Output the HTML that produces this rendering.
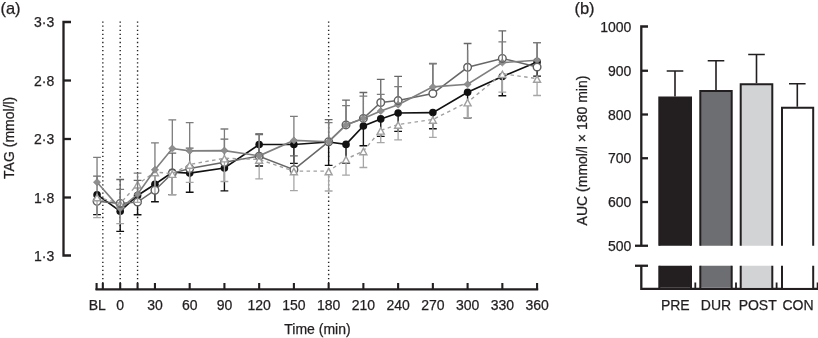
<!DOCTYPE html><html><head><meta charset="utf-8"><title>Figure</title>
<style>html,body{margin:0;padding:0;background:#fff}svg{display:block;filter:blur(0.3px)}text{font-family:"Liberation Sans",Arial,Helvetica,sans-serif;fill:#231f20;stroke:#231f20;stroke-width:0.25px}</style></head><body>
<svg width="818" height="338" viewBox="0 0 818 338">
<rect width="818" height="338" fill="#fff"/>
<text x="0.4" y="14.3" font-size="16.5">(a)</text>
<text x="574.4" y="14.3" font-size="16.5">(b)</text>
<g stroke="#231f20" stroke-width="2.3" fill="none">
<path d="M71 22H63.5V255.5H71"/>
<path d="M63.5 80.50H71"/>
<path d="M63.5 139.00H71"/>
<path d="M63.5 197.50H71"/>
</g>
<g stroke="#231f20" stroke-width="2.3" fill="none">
<path d="M95.5 289.3H538.2"/>
</g>
<g stroke="#231f20" stroke-width="2.1" fill="none">
<path d="M96.6 283V290"/>
<path d="M102.83 283V290"/>
<path d="M120.20 283V290"/>
<path d="M137.57 283V290"/>
<path d="M154.94 283V290"/>
<path d="M189.68 283V290"/>
<path d="M224.42 283V290"/>
<path d="M259.16 283V290"/>
<path d="M293.90 283V290"/>
<path d="M328.64 283V290"/>
<path d="M363.38 283V290"/>
<path d="M398.12 283V290"/>
<path d="M432.86 283V290"/>
<path d="M467.60 283V290"/>
<path d="M502.34 283V290"/>
<path d="M537.08 283V290"/>
</g>
<g stroke="#222" stroke-width="1.4" stroke-dasharray="1.3 2.77" fill="none">
<path d="M102.83 21.5V283"/>
<path d="M120.20 21.5V283"/>
<path d="M137.57 21.5V283"/>
<path d="M328.64 21.5V283"/>
</g>
<g font-size="14" text-anchor="end">
<text x="54.3" y="27.00">3·3</text>
<text x="54.3" y="85.50">2·8</text>
<text x="54.3" y="144.00">2·3</text>
<text x="54.3" y="202.50">1·8</text>
<text x="54.3" y="261.00">1·3</text>
</g>
<g font-size="14" text-anchor="middle">
<text x="97.3" y="309.6">BL</text>
<text x="120.20" y="309.6">0</text>
<text x="154.94" y="309.6">30</text>
<text x="189.68" y="309.6">60</text>
<text x="224.42" y="309.6">90</text>
<text x="259.16" y="309.6">120</text>
<text x="293.90" y="309.6">150</text>
<text x="328.64" y="309.6">180</text>
<text x="363.38" y="309.6">210</text>
<text x="398.12" y="309.6">240</text>
<text x="432.86" y="309.6">270</text>
<text x="467.60" y="309.6">300</text>
<text x="502.34" y="309.6">330</text>
<text x="537.08" y="309.6">360</text>
<text x="317.5" y="334.4">Time (min)</text>
<text transform="translate(14.2 137.8) rotate(-90)">TAG (mmol/l)</text>
</g>
<path d="M97.04 194.70V214.60 M93.14 214.60H100.94 M120.20 211.20V231.40 M116.30 231.40H124.10 M137.57 195.50V214.80 M133.67 214.80H141.47 M154.94 184.30V201.80 M151.04 201.80H158.84 M172.31 172.30V194.60 M168.41 194.60H176.21 M189.68 173.10V192.30 M185.78 192.30H193.58 M224.42 168.00V190.90 M220.52 190.90H228.32 M259.16 144.50V166.00 M255.26 166.00H263.06 M293.90 144.50V163.40 M290.00 163.40H297.80 M328.64 142.00V165.40 M324.74 165.40H332.54 M346.01 144.40V163.20 M342.11 163.20H349.91 M363.38 126.00V145.80 M359.48 145.80H367.28 M380.75 118.90V136.40 M376.85 136.40H384.65 M398.12 113.00V131.40 M394.22 131.40H402.02 M432.86 112.60V128.80 M428.96 128.80H436.76 M467.60 92.30V117.70 M463.70 117.70H471.50 M502.34 76.50V95.80 M498.44 95.80H506.24 M537.08 61.90V76.10 M533.18 76.10H540.98" stroke="#111" stroke-width="1.4" fill="none"/>
<path d="M97.04 194.70 L120.20 211.20 L137.57 195.50 L154.94 184.30 L172.31 172.30 L189.68 173.10 L224.42 168.00 L259.16 144.50 L293.90 144.50 L328.64 142.00 L346.01 144.40 L363.38 126.00 L380.75 118.90 L398.12 113.00 L432.86 112.60 L467.60 92.30 L502.34 76.50 L537.08 61.90" stroke="#111" stroke-width="1.65" fill="none"/>
<circle cx="97.04" cy="194.70" r="3.8" fill="#111"/>
<circle cx="120.20" cy="211.20" r="3.8" fill="#111"/>
<circle cx="137.57" cy="195.50" r="3.8" fill="#111"/>
<circle cx="154.94" cy="184.30" r="3.8" fill="#111"/>
<circle cx="172.31" cy="172.30" r="3.8" fill="#111"/>
<circle cx="189.68" cy="173.10" r="3.8" fill="#111"/>
<circle cx="224.42" cy="168.00" r="3.8" fill="#111"/>
<circle cx="259.16" cy="144.50" r="3.8" fill="#111"/>
<circle cx="293.90" cy="144.50" r="3.8" fill="#111"/>
<circle cx="328.64" cy="142.00" r="3.8" fill="#111"/>
<circle cx="346.01" cy="144.40" r="3.8" fill="#111"/>
<circle cx="363.38" cy="126.00" r="3.8" fill="#111"/>
<circle cx="380.75" cy="118.90" r="3.8" fill="#111"/>
<circle cx="398.12" cy="113.00" r="3.8" fill="#111"/>
<circle cx="432.86" cy="112.60" r="3.8" fill="#111"/>
<circle cx="467.60" cy="92.30" r="3.8" fill="#111"/>
<circle cx="502.34" cy="76.50" r="3.8" fill="#111"/>
<circle cx="537.08" cy="61.90" r="3.8" fill="#111"/>
<path d="M97.04 201.30V176.10 M93.14 176.10H100.94 M120.20 203.40V179.50 M116.30 179.50H124.10 M137.57 202.00V180.40 M133.67 180.40H141.47 M154.94 190.20V171.00 M172.31 173.30V153.20 M168.41 153.20H176.21 M189.68 168.50V148.20 M185.78 148.20H193.58 M224.42 162.30V139.20 M220.52 139.20H228.32 M259.16 156.20V134.60 M255.26 134.60H263.06 M293.90 169.70V155.80 M290.00 155.80H297.80 M328.64 141.70V119.60 M324.74 119.60H332.54 M346.01 124.90V100.10 M342.11 100.10H349.91 M363.38 118.40V92.50 M359.48 92.50H367.28 M380.75 102.50V79.30 M376.85 79.30H384.65 M398.12 100.60V76.40 M394.22 76.40H402.02 M432.86 93.50V63.90 M428.96 63.90H436.76 M467.60 67.30V43.50 M463.70 43.50H471.50 M502.34 58.40V30.90 M498.44 30.90H506.24 M537.08 67.00V42.60 M533.18 42.60H540.98" stroke="#676767" stroke-width="1.3" fill="none"/>
<path d="M97.04 201.30 L120.20 203.40 L137.57 202.00 L154.94 190.20 L172.31 173.30 L189.68 168.50 L224.42 162.30 L259.16 156.20 L293.90 169.70 L328.64 141.70 L346.01 124.90 L363.38 118.40 L380.75 102.50 L398.12 100.60 L432.86 93.50 L467.60 67.30 L502.34 58.40 L537.08 67.00" stroke="#676767" stroke-width="1.5" fill="none"/>
<circle cx="97.04" cy="201.30" r="3.8" fill="#fff" stroke="#5e5e5e" stroke-width="1.4"/>
<circle cx="120.20" cy="203.40" r="3.8" fill="#fff" stroke="#5e5e5e" stroke-width="1.4"/>
<circle cx="137.57" cy="202.00" r="3.8" fill="#fff" stroke="#5e5e5e" stroke-width="1.4"/>
<circle cx="154.94" cy="190.20" r="3.8" fill="#fff" stroke="#5e5e5e" stroke-width="1.4"/>
<circle cx="172.31" cy="173.30" r="3.8" fill="#fff" stroke="#5e5e5e" stroke-width="1.4"/>
<circle cx="189.68" cy="168.50" r="3.8" fill="#fff" stroke="#5e5e5e" stroke-width="1.4"/>
<circle cx="224.42" cy="162.30" r="3.8" fill="#fff" stroke="#5e5e5e" stroke-width="1.4"/>
<circle cx="259.16" cy="156.20" r="3.8" fill="#fff" stroke="#5e5e5e" stroke-width="1.4"/>
<circle cx="293.90" cy="169.70" r="3.8" fill="#fff" stroke="#5e5e5e" stroke-width="1.4"/>
<circle cx="328.64" cy="141.70" r="3.8" fill="#fff" stroke="#5e5e5e" stroke-width="1.4"/>
<circle cx="346.01" cy="124.90" r="3.8" fill="#fff" stroke="#5e5e5e" stroke-width="1.4"/>
<circle cx="363.38" cy="118.40" r="3.8" fill="#fff" stroke="#5e5e5e" stroke-width="1.4"/>
<circle cx="380.75" cy="102.50" r="3.8" fill="#fff" stroke="#5e5e5e" stroke-width="1.4"/>
<circle cx="398.12" cy="100.60" r="3.8" fill="#fff" stroke="#5e5e5e" stroke-width="1.4"/>
<circle cx="432.86" cy="93.50" r="3.8" fill="#fff" stroke="#5e5e5e" stroke-width="1.4"/>
<circle cx="467.60" cy="67.30" r="3.8" fill="#fff" stroke="#5e5e5e" stroke-width="1.4"/>
<circle cx="502.34" cy="58.40" r="3.8" fill="#fff" stroke="#5e5e5e" stroke-width="1.4"/>
<circle cx="537.08" cy="67.00" r="3.8" fill="#fff" stroke="#5e5e5e" stroke-width="1.4"/>
<path d="M97.04 197.00V217.60 M93.14 217.60H100.94 M120.20 203.50V223.70 M116.30 223.70H124.10 M137.57 184.30V202.40 M133.67 202.40H141.47 M154.94 172.00V193.00 M172.31 173.70V194.70 M168.41 194.70H176.21 M189.68 164.50V182.30 M185.78 182.30H193.58 M224.42 158.20V181.50 M220.52 181.50H228.32 M259.16 159.50V178.90 M255.26 178.90H263.06 M293.90 171.10V190.70 M290.00 190.70H297.80 M328.64 171.10V191.00 M324.74 191.00H332.54 M346.01 159.20V175.10 M342.11 175.10H349.91 M363.38 151.00V167.50 M359.48 167.50H367.28 M380.75 130.40V142.60 M376.85 142.60H384.65 M398.12 124.50V139.80 M394.22 139.80H402.02 M432.86 119.50V137.40 M428.96 137.40H436.76 M467.60 102.20V117.70 M463.70 117.70H471.50 M502.34 73.80V92.10 M498.44 92.10H506.24 M537.08 78.60V95.50 M533.18 95.50H540.98" stroke="#a6a6a6" stroke-width="1.3" fill="none"/>
<path d="M97.04 197.00 L120.20 203.50 L137.57 184.30 L154.94 172.00 L172.31 173.70 L189.68 164.50 L224.42 158.20 L259.16 159.50 L293.90 171.10 L328.64 171.10 L346.01 159.20 L363.38 151.00 L380.75 130.40 L398.12 124.50 L432.86 119.50 L467.60 102.20 L502.34 73.80 L537.08 78.60" stroke="#a0a0a0" stroke-width="1.4" fill="none" stroke-dasharray="3.5 3.4"/>
<path d="M97.04 194.30L100.54 200.70H93.54Z" fill="#fff" stroke="#a0a0a0" stroke-width="1.4"/>
<path d="M120.20 200.80L123.70 207.20H116.70Z" fill="#fff" stroke="#a0a0a0" stroke-width="1.4"/>
<path d="M137.57 181.60L141.07 188.00H134.07Z" fill="#fff" stroke="#a0a0a0" stroke-width="1.4"/>
<path d="M154.94 169.30L158.44 175.70H151.44Z" fill="#fff" stroke="#a0a0a0" stroke-width="1.4"/>
<path d="M172.31 171.00L175.81 177.40H168.81Z" fill="#fff" stroke="#a0a0a0" stroke-width="1.4"/>
<path d="M189.68 161.80L193.18 168.20H186.18Z" fill="#fff" stroke="#a0a0a0" stroke-width="1.4"/>
<path d="M224.42 155.50L227.92 161.90H220.92Z" fill="#fff" stroke="#a0a0a0" stroke-width="1.4"/>
<path d="M259.16 156.80L262.66 163.20H255.66Z" fill="#fff" stroke="#a0a0a0" stroke-width="1.4"/>
<path d="M293.90 168.40L297.40 174.80H290.40Z" fill="#fff" stroke="#a0a0a0" stroke-width="1.4"/>
<path d="M328.64 168.40L332.14 174.80H325.14Z" fill="#fff" stroke="#a0a0a0" stroke-width="1.4"/>
<path d="M346.01 156.50L349.51 162.90H342.51Z" fill="#fff" stroke="#a0a0a0" stroke-width="1.4"/>
<path d="M363.38 148.30L366.88 154.70H359.88Z" fill="#fff" stroke="#a0a0a0" stroke-width="1.4"/>
<path d="M380.75 127.70L384.25 134.10H377.25Z" fill="#fff" stroke="#a0a0a0" stroke-width="1.4"/>
<path d="M398.12 121.80L401.62 128.20H394.62Z" fill="#fff" stroke="#a0a0a0" stroke-width="1.4"/>
<path d="M432.86 116.80L436.36 123.20H429.36Z" fill="#fff" stroke="#a0a0a0" stroke-width="1.4"/>
<path d="M467.60 99.50L471.10 105.90H464.10Z" fill="#fff" stroke="#a0a0a0" stroke-width="1.4"/>
<path d="M502.34 71.10L505.84 77.50H498.84Z" fill="#fff" stroke="#a0a0a0" stroke-width="1.4"/>
<path d="M537.08 75.90L540.58 82.30H533.58Z" fill="#fff" stroke="#a0a0a0" stroke-width="1.4"/>
<path d="M97.04 182.20V157.30 M93.14 157.30H100.94 M120.20 208.60V189.30 M116.30 189.30H124.10 M137.57 194.30V173.10 M133.67 173.10H141.47 M154.94 169.80V142.90 M151.04 142.90H158.84 M172.31 148.50V119.80 M168.41 119.80H176.21 M189.68 150.90V122.60 M185.78 122.60H193.58 M224.42 150.60V129.00 M220.52 129.00H228.32 M259.16 155.80V133.60 M255.26 133.60H263.06 M293.90 140.40V116.30 M290.00 116.30H297.80 M328.64 141.70V122.70 M324.74 122.70H332.54 M346.01 124.90V105.70 M342.11 105.70H349.91 M363.38 118.40V96.10 M359.48 96.10H367.28 M380.75 111.10V94.40 M376.85 94.40H384.65 M398.12 104.70V86.70 M394.22 86.70H402.02 M432.86 86.90V63.30 M428.96 63.30H436.76 M467.60 84.30V50.00 M502.34 62.60V41.90 M498.44 41.90H506.24 M537.08 60.20V42.60 M533.18 42.60H540.98" stroke="#7c7c7c" stroke-width="1.3" fill="none"/>
<path d="M97.04 182.20 L120.20 208.60 L137.57 194.30 L154.94 169.80 L172.31 148.50 L189.68 150.90 L224.42 150.60 L259.16 155.80 L293.90 140.40 L328.64 141.70 L346.01 124.90 L363.38 118.40 L380.75 111.10 L398.12 104.70 L432.86 86.90 L467.60 84.30 L502.34 62.60 L537.08 60.20" stroke="#7f7f7f" stroke-width="1.6" fill="none"/>
<path d="M97.04 178.70L100.64 182.20L97.04 185.70L93.44 182.20Z" fill="#8e8e8e" stroke="#787878" stroke-width="0.6"/>
<path d="M120.20 205.10L123.80 208.60L120.20 212.10L116.60 208.60Z" fill="#8e8e8e" stroke="#787878" stroke-width="0.6"/>
<path d="M137.57 190.80L141.17 194.30L137.57 197.80L133.97 194.30Z" fill="#8e8e8e" stroke="#787878" stroke-width="0.6"/>
<path d="M154.94 166.30L158.54 169.80L154.94 173.30L151.34 169.80Z" fill="#8e8e8e" stroke="#787878" stroke-width="0.6"/>
<path d="M172.31 145.00L175.91 148.50L172.31 152.00L168.71 148.50Z" fill="#8e8e8e" stroke="#787878" stroke-width="0.6"/>
<path d="M189.68 147.40L193.28 150.90L189.68 154.40L186.08 150.90Z" fill="#8e8e8e" stroke="#787878" stroke-width="0.6"/>
<path d="M224.42 147.10L228.02 150.60L224.42 154.10L220.82 150.60Z" fill="#8e8e8e" stroke="#787878" stroke-width="0.6"/>
<path d="M259.16 152.30L262.76 155.80L259.16 159.30L255.56 155.80Z" fill="#8e8e8e" stroke="#787878" stroke-width="0.6"/>
<path d="M293.90 136.90L297.50 140.40L293.90 143.90L290.30 140.40Z" fill="#8e8e8e" stroke="#787878" stroke-width="0.6"/>
<path d="M328.64 138.20L332.24 141.70L328.64 145.20L325.04 141.70Z" fill="#8e8e8e" stroke="#787878" stroke-width="0.6"/>
<path d="M346.01 121.40L349.61 124.90L346.01 128.40L342.41 124.90Z" fill="#8e8e8e" stroke="#787878" stroke-width="0.6"/>
<path d="M363.38 114.90L366.98 118.40L363.38 121.90L359.78 118.40Z" fill="#8e8e8e" stroke="#787878" stroke-width="0.6"/>
<path d="M380.75 107.60L384.35 111.10L380.75 114.60L377.15 111.10Z" fill="#8e8e8e" stroke="#787878" stroke-width="0.6"/>
<path d="M398.12 101.20L401.72 104.70L398.12 108.20L394.52 104.70Z" fill="#8e8e8e" stroke="#787878" stroke-width="0.6"/>
<path d="M432.86 83.40L436.46 86.90L432.86 90.40L429.26 86.90Z" fill="#8e8e8e" stroke="#787878" stroke-width="0.6"/>
<path d="M467.60 80.80L471.20 84.30L467.60 87.80L464.00 84.30Z" fill="#8e8e8e" stroke="#787878" stroke-width="0.6"/>
<path d="M502.34 59.10L505.94 62.60L502.34 66.10L498.74 62.60Z" fill="#8e8e8e" stroke="#787878" stroke-width="0.6"/>
<path d="M537.08 56.70L540.68 60.20L537.08 63.70L533.48 60.20Z" fill="#8e8e8e" stroke="#787878" stroke-width="0.6"/>
<g fill="none" stroke="#5e5e5e" stroke-width="1.4"><clipPath id="c1"><path d="M120.20 204.80L124.10 208.60L120.20 212.40L116.30 208.60Z"/></clipPath><circle cx="120.20" cy="203.40" r="3.8" clip-path="url(#c1)"/><clipPath id="c2"><path d="M137.57 190.50L141.47 194.30L137.57 198.10L133.67 194.30Z"/></clipPath><circle cx="137.57" cy="202.00" r="3.8" clip-path="url(#c2)"/><clipPath id="c7"><path d="M259.16 152.00L263.06 155.80L259.16 159.60L255.26 155.80Z"/></clipPath><circle cx="259.16" cy="156.20" r="3.8" clip-path="url(#c7)"/><clipPath id="c9"><path d="M328.64 137.90L332.54 141.70L328.64 145.50L324.74 141.70Z"/></clipPath><circle cx="328.64" cy="141.70" r="3.8" clip-path="url(#c9)"/><clipPath id="c10"><path d="M346.01 121.10L349.91 124.90L346.01 128.70L342.11 124.90Z"/></clipPath><circle cx="346.01" cy="124.90" r="3.8" clip-path="url(#c10)"/><clipPath id="c11"><path d="M363.38 114.60L367.28 118.40L363.38 122.20L359.48 118.40Z"/></clipPath><circle cx="363.38" cy="118.40" r="3.8" clip-path="url(#c11)"/><clipPath id="c13"><path d="M398.12 100.90L402.02 104.70L398.12 108.50L394.22 104.70Z"/></clipPath><circle cx="398.12" cy="100.60" r="3.8" clip-path="url(#c13)"/><clipPath id="c14"><path d="M432.86 83.10L436.76 86.90L432.86 90.70L428.96 86.90Z"/></clipPath><circle cx="432.86" cy="93.50" r="3.8" clip-path="url(#c14)"/><clipPath id="c16"><path d="M502.34 58.80L506.24 62.60L502.34 66.40L498.44 62.60Z"/></clipPath><circle cx="502.34" cy="58.40" r="3.8" clip-path="url(#c16)"/><clipPath id="c17"><path d="M537.08 56.40L540.98 60.20L537.08 64.00L533.18 60.20Z"/></clipPath><circle cx="537.08" cy="67.00" r="3.8" clip-path="url(#c17)"/></g>
<g stroke="#231f20" stroke-width="2.3" fill="none">
<path d="M648 26.5H641.3V245.75"/>
<path d="M641.3 70.75H648"/>
<path d="M641.3 114.50H648"/>
<path d="M641.3 158.25H648"/>
<path d="M641.3 202.00H648"/>
<path d="M635 245.75H648"/>
<path d="M635 265.75H648"/>
<path d="M641.3 265.75V288.8H818"/>
</g>
<g stroke="#231f20" stroke-width="1.8" fill="none">
<path d="M695.3 282.5V289"/>
<path d="M736 282.5V289"/>
<path d="M776.6 282.5V289"/>
<path d="M817.6 282.5V289"/>
</g>
<path d="M675 96.5V71M666.7 71H683.3" stroke="#231f20" stroke-width="1.6" fill="none"/>
<rect x="659.3" y="97.5" width="31.700000000000045" height="148.25" fill="#231f20"/>
<path d="M659.3 245.75V97.5H691V245.75" stroke="#231f20" stroke-width="2" fill="none"/>
<rect x="659.3" y="265.75" width="31.700000000000045" height="22" fill="#231f20"/>
<path d="M659.3 288V265.75M691 265.75V288" stroke="#231f20" stroke-width="2" fill="none"/>
<path d="M716 90V60.75M707.7 60.75H724.3" stroke="#231f20" stroke-width="1.6" fill="none"/>
<rect x="700.3" y="91" width="31.40000000000009" height="154.75" fill="#6d6e71"/>
<path d="M700.3 245.75V91H731.7V245.75" stroke="#231f20" stroke-width="2" fill="none"/>
<rect x="700.3" y="265.75" width="31.40000000000009" height="22" fill="#6d6e71"/>
<path d="M700.3 288V265.75M731.7 265.75V288" stroke="#231f20" stroke-width="2" fill="none"/>
<path d="M756.5 83.25V54.5M748.2 54.5H764.8" stroke="#231f20" stroke-width="1.6" fill="none"/>
<rect x="740.7" y="84.25" width="31.59999999999991" height="161.5" fill="#d1d3d4"/>
<path d="M740.7 245.75V84.25H772.3V245.75" stroke="#231f20" stroke-width="2" fill="none"/>
<rect x="740.7" y="265.75" width="31.59999999999991" height="22" fill="#d1d3d4"/>
<path d="M740.7 288V265.75M772.3 265.75V288" stroke="#231f20" stroke-width="2" fill="none"/>
<path d="M797.3 106.75V83.75M789.0 83.75H805.5999999999999" stroke="#231f20" stroke-width="1.6" fill="none"/>
<rect x="782" y="107.75" width="31.200000000000045" height="138.0" fill="#fff"/>
<path d="M782 245.75V107.75H813.2V245.75" stroke="#231f20" stroke-width="2" fill="none"/>
<rect x="782" y="265.75" width="31.200000000000045" height="22" fill="#fff"/>
<path d="M782 288V265.75M813.2 265.75V288" stroke="#231f20" stroke-width="2" fill="none"/>
<g font-size="14" text-anchor="end">
<text x="631.3" y="32.00">1000</text>
<text x="631.3" y="75.75">900</text>
<text x="631.3" y="119.50">800</text>
<text x="631.3" y="163.25">700</text>
<text x="631.3" y="207.00">600</text>
<text x="631.3" y="250.75">500</text>
</g>
<g font-size="14" text-anchor="middle">
<text x="675.3" y="309.6">PRE</text>
<text x="716" y="309.6">DUR</text>
<text x="757.7" y="309.6">POST</text>
<text x="798" y="309.6">CON</text>
<text transform="translate(586.6 150.5) rotate(-90)">AUC (mmol/l × 180 min)</text>
</g>
</svg></body></html>
